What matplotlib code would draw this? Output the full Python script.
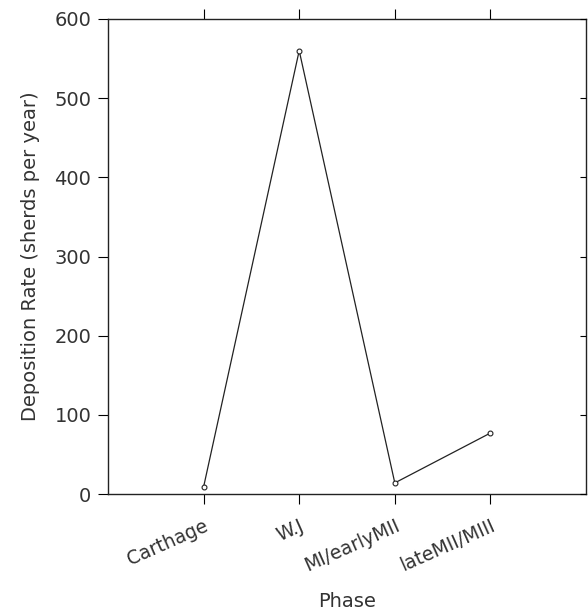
import matplotlib.pyplot as plt
import numpy as np

# Data
phases = ["Carthage", "W.J", "MI/earlyMII", "lateMII/MIII"]
rates = [9, 560, 14, 77]  # sherds per year
yticks = [0, 100, 200, 300, 400, 500, 600]

plt.rcParams["font.family"] = ["DejaVu Sans"]

fig = plt.figure(figsize=(5.88, 6.15), dpi=100)
ax = fig.add_axes([108 / 588, 1 - 494 / 615, 478 / 588, 475 / 615])

x = np.arange(1, len(phases) + 1)
ax.plot(x, rates, color="#222222", linewidth=0.9, marker="o", markersize=3.5,
        markerfacecolor="white", markeredgecolor="#222222", markeredgewidth=0.8)

ax.set_xlim(0, len(phases) + 1)
ax.set_ylim(0, 600)
ax.set_xticks(x)
ax.set_xticklabels(phases, rotation=24, ha="right", va="top",
                   rotation_mode="anchor", fontsize=13.5, color="#333333")
ax.set_yticks(yticks)
ax.set_yticklabels([str(v) for v in yticks], fontsize=14, color="#333333")

ax.tick_params(axis="x", which="both", direction="out", length=7, width=0.8,
               top=True, bottom=True, pad=9)
ax.tick_params(axis="y", which="both", direction="out", length=7, width=0.8,
               left=True, right=False, pad=5)

# inward ticks on the right spine
ax2 = ax.twinx()
ax2.set_ylim(0, 600)
ax2.set_yticks(yticks)
ax2.tick_params(axis="y", direction="in", length=4, width=0.8, labelright=False)
for s in ax2.spines.values():
    s.set_visible(False)

for s in ax.spines.values():
    s.set_linewidth(1.0)
    s.set_color("#222222")

ax.set_xlabel("Phase", fontsize=14, color="#333333")
ax.xaxis.set_label_coords(0.5, -98 / 475)
ax.set_ylabel("Deposition Rate (sherds per year)", fontsize=14,
              color="#333333")
ax.yaxis.set_label_coords(-68 / 478, 0.5)

plt.savefig("out.png", dpi=100)
